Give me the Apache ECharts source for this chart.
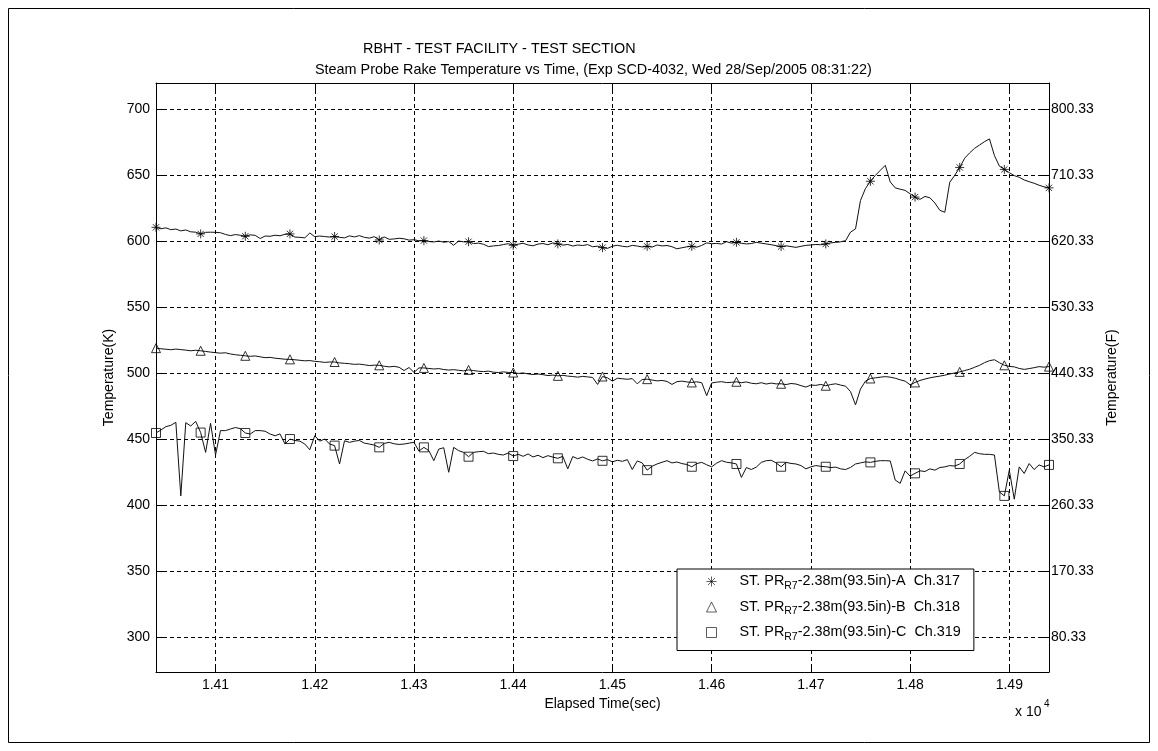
<!DOCTYPE html>
<html><head><meta charset="utf-8">
<script src="https://cdn.jsdelivr.net/npm/echarts@6/dist/echarts.min.js"></script>
<style>html,body{margin:0;padding:0;background:#fff}#chart{width:1158px;height:751px}</style>
</head><body><div id="chart"></div>
<script>
// ---------- data ----------
const elapsedTime = [
14040,14045,14050,14055,14060,14065,14070,14075,14080,14085,
14090,14095,14100,14105,14110,14115,14120,14125,14130,14135,
14140,14145,14150,14155,14160,14165,14170,14175,14180,14185,
14190,14195,14200,14205,14210,14215,14220,14225,14230,14235,
14240,14245,14250,14255,14260,14265,14270,14275,14280,14285,
14290,14295,14300,14305,14310,14315,14320,14325,14330,14335,
14340,14345,14350,14355,14360,14365,14370,14375,14380,14385,
14390,14395,14400,14405,14410,14415,14420,14425,14430,14435,
14440,14445,14450,14455,14460,14465,14470,14475,14480,14485,
14490,14495,14500,14505,14510,14515,14520,14525,14530,14535,
14540,14545,14550,14555,14560,14565,14570,14575,14580,14585,
14590,14595,14600,14605,14610,14615,14620,14625,14630,14635,
14640,14645,14650,14655,14660,14665,14670,14675,14680,14685,
14690,14695,14700,14705,14710,14715,14720,14725,14730,14735,
14740,14745,14750,14755,14760,14765,14770,14775,14780,14785,
14790,14795,14800,14805,14810,14815,14820,14825,14830,14835,
14840,14845,14850,14855,14860,14865,14870,14875,14880,14885,
14890,14895,14900,14905,14910,14915,14920,14925,14930,14935,
14940];

const tempA = [
610.6,609.5,610.2,608.8,609.3,607.9,608.6,607.2,606.9,605.6,
606.8,606.9,606.8,606.5,605.2,604.3,605.1,604.6,603.8,604.9,
604.5,602.1,604.0,603.8,604.6,604.2,605.3,605.6,603.2,603.0,
602.6,606.3,603.5,604.0,603.6,603.2,603.6,603.0,602.6,604.1,
603.3,604.3,603.0,602.4,603.5,601.0,603.3,601.5,601.8,602.3,
601.9,600.9,601.2,600.4,600.5,599.8,599.5,600.2,599.3,599.8,
597.0,600.2,599.6,599.7,598.3,598.6,597.8,596.0,596.5,596.8,
597.5,598.2,597.0,597.8,598.5,597.2,596.6,597.9,598.3,597.4,
598.8,598.0,597.1,597.6,596.4,597.2,596.8,597.5,595.9,596.3,
595.2,594.6,596.3,597.0,596.2,595.8,596.9,596.4,595.7,596.2,
595.6,597.2,596.5,596.8,595.9,594.3,595.1,595.8,596.2,595.5,
596.9,598.8,598.2,598.4,597.9,599.7,598.6,599.2,598.5,598.0,
598.3,599.2,598.6,598.0,597.4,596.7,596.0,596.6,596.0,595.4,
596.2,596.9,597.2,597.6,597.4,598.0,598.8,599.2,599.6,600.5,
607.0,609.4,630.9,640.0,645.5,650.0,653.8,657.6,645.0,640.5,
639.5,638.6,636.0,633.5,631.8,634.0,633.0,629.0,623.5,622.0,
644.8,650.0,656.0,663.0,667.0,670.5,673.0,675.5,677.6,665.0,
657.0,654.5,652.0,649.8,648.5,646.5,645.2,644.0,642.5,641.3,
640.5];

const tempB = [
519.0,518.5,518.2,517.8,518.3,517.9,517.5,517.0,517.4,517.0,
516.5,516.0,515.6,515.2,515.5,514.6,514.0,513.6,513.2,512.8,
513.1,512.4,511.8,512.0,511.4,511.0,510.6,510.5,510.2,509.8,
509.4,509.6,509.0,508.7,508.2,508.5,508.5,507.8,507.5,507.2,
506.7,506.9,506.4,505.8,506.1,506.0,505.3,504.8,505.2,504.5,
502.0,504.3,500.6,504.0,504.0,503.6,503.2,503.5,502.8,502.4,
502.7,502.2,501.8,502.5,502.0,501.5,501.2,501.6,500.8,500.5,
501.0,500.6,500.5,499.8,500.2,499.5,499.0,499.4,498.9,498.2,
498.6,498.0,498.4,497.8,497.5,497.0,497.6,497.2,496.8,491.5,
497.5,496.5,494.0,496.2,495.8,495.4,495.9,492.0,495.2,495.5,
494.8,494.2,494.5,493.8,491.5,493.6,494.0,493.4,493.0,493.5,
492.8,483.0,492.6,493.2,493.6,492.9,493.1,493.5,492.8,493.4,
492.4,492.0,492.8,491.8,492.5,491.9,492.0,491.4,492.2,491.8,
490.6,489.5,491.0,490.8,491.5,490.5,491.4,492.0,491.0,490.2,
486.0,476.0,488.0,494.0,496.0,496.5,497.0,497.4,497.0,496.2,
495.0,494.0,491.2,493.0,494.5,495.6,496.5,497.2,497.8,498.5,
499.4,500.2,501.0,502.0,503.0,504.5,506.0,508.0,509.5,510.2,
508.0,506.0,505.2,504.8,503.6,502.9,503.5,504.2,505.0,504.6,
505.0];

const tempC = [
454.7,457.0,459.5,460.5,462.8,407.0,462.5,460.0,463.5,455.0,
440.0,462.0,438.0,456.5,456.5,457.7,458.8,458.0,454.7,453.9,
456.5,456.5,456.0,453.9,452.6,454.0,446.3,450.1,449.0,448.5,
446.3,442.0,452.6,448.5,450.1,446.3,445.1,431.2,448.8,447.6,
448.5,449.0,447.0,446.3,445.5,443.8,446.8,447.6,446.5,446.0,
446.3,447.0,447.6,441.0,443.8,441.3,433.7,442.5,443.5,424.9,
443.8,441.3,440.0,436.7,440.0,440.5,440.8,439.0,439.5,438.5,
438.0,439.5,437.2,438.5,437.0,438.8,436.5,437.8,436.0,437.5,
436.4,435.5,437.0,427.5,436.8,435.2,436.5,434.8,433.5,435.0,
433.6,434.5,432.8,434.0,433.2,434.5,427.0,433.5,432.0,426.5,
429.5,431.2,432.5,433.7,432.0,432.7,431.5,430.8,429.1,431.5,
432.4,430.6,429.0,431.8,433.7,432.5,432.0,431.2,421.0,428.5,
427.0,428.8,432.4,433.7,434.0,432.0,429.1,432.4,431.6,431.2,
430.0,427.5,429.0,430.0,429.4,429.1,428.5,428.8,427.5,427.0,
428.6,431.2,432.0,432.8,432.4,433.2,433.7,433.7,433.5,419.0,
416.5,426.0,422.0,424.1,426.0,425.5,427.5,426.5,428.5,429.0,
430.0,429.6,431.2,434.5,437.0,440.0,439.0,438.5,438.5,438.0,
410.0,407.0,426.5,404.5,429.0,424.0,431.5,427.0,430.5,429.0,
430.5];

const xTicks = [14100,14200,14300,14400,14500,14600,14700,14800,14900];
const yTicksK = [300,350,400,450,500,550,600,650,700];
const seriesLetters = ['A','B','C'];
const channels = ['317','318','319'];
const markerSymbols = [
  'path://M5,0L5,10M0,5L10,5M1.5,1.5L8.5,8.5M8.5,1.5L1.5,8.5',
  'triangle',
  'rect'
];
const markerEvery = 9;
const titleLine1 = 'RBHT - TEST FACILITY - TEST SECTION';
const titleLine2 = 'Steam Probe Rake Temperature vs Time, (Exp SCD-4032, Wed 28/Sep/2005 08:31:22)';

// ---------- chart ----------
const FONT = "'Liberation Sans', Arial, Helvetica, sans-serif";
const xMin = 14040, xMax = 14940, yMinK = 273.5, yMaxK = 720;
const kToF = k => k * 9 / 5 - 459.67;
const yTicksF = yTicksK.map(kToF);
const allTemps = [tempA, tempB, tempC];

const series = [];
allTemps.forEach((vals, s) => {
  const pts = elapsedTime.map((t, i) => [t, vals[i]]);
  series.push({
    type: 'line', data: pts, showSymbol: false, silent: true, z: 2,
    lineStyle: { color: '#111', width: 1 }, animation: false
  });
});
allTemps.forEach((vals, s) => {
  const pts = elapsedTime.map((t, i) => [t, vals[i]]).filter((p, i) => i % markerEvery === 0);
  series.push({
    type: 'scatter', name: seriesLetters[s], data: pts, silent: true, z: 3,
    symbol: markerSymbols[s], symbolSize: 9,
    itemStyle: { color: 'none', borderColor: '#000', borderWidth: 1 }, animation: false
  });
});

const dash = { type: [4, 3], color: '#000', width: 1 };
const labelStyle = { color: '#000', fontSize: 14, fontFamily: FONT };

const option = {
  backgroundColor: '#fff',
  animation: false,
  grid: { left: 156, right: 109, top: 83, bottom: 79 },
  xAxis: [
    {
      type: 'value', min: xMin, max: xMax, position: 'bottom',
      axisLine: { show: true, lineStyle: { color: '#000', width: 1 } },
      axisTick: { show: true, inside: true, length: 8, customValues: xTicks, lineStyle: { color: '#000' } },
      axisLabel: Object.assign({ customValues: xTicks, margin: 6, formatter: v => (v / 10000).toFixed(2) }, labelStyle),
      splitLine: { show: true, lineStyle: dash },
      name: 'Elapsed Time(sec)', nameLocation: 'middle', nameGap: 25,
      nameTextStyle: labelStyle
    },
    {
      type: 'value', min: xMin, max: xMax, position: 'top',
      axisLine: { show: true, lineStyle: { color: '#000', width: 1 } },
      axisTick: { show: true, inside: true, length: 8, customValues: xTicks, lineStyle: { color: '#000' } },
      axisLabel: { show: false }, splitLine: { show: false }
    }
  ],
  yAxis: [
    {
      type: 'value', min: yMinK, max: yMaxK, position: 'left',
      axisLine: { show: true, lineStyle: { color: '#000', width: 1 } },
      axisTick: { show: true, inside: true, length: 8, customValues: yTicksK, lineStyle: { color: '#000' } },
      axisLabel: Object.assign({ customValues: yTicksK, margin: 6, formatter: v => String(Math.round(v)) }, labelStyle),
      splitLine: { show: true, lineStyle: dash },
      name: 'Temperature(K)', nameLocation: 'middle', nameGap: 30, nameRotate: 90,
      nameTextStyle: labelStyle
    },
    {
      type: 'value', min: kToF(yMinK), max: kToF(yMaxK), position: 'right',
      axisLine: { show: true, lineStyle: { color: '#000', width: 1 } },
      axisTick: { show: true, inside: true, length: 8, customValues: yTicksF, lineStyle: { color: '#000' } },
      axisLabel: Object.assign({ customValues: yTicksF, margin: 2, formatter: v => v.toFixed(2) }, labelStyle),
      splitLine: { show: false },
      name: 'Temperature(F)', nameLocation: 'middle', nameGap: 48, nameRotate: 90,
      nameTextStyle: labelStyle
    }
  ],
  legend: {
    data: seriesLetters, orient: 'vertical', left: 677, top: 569,
    padding: [5, 13, 8, 27], itemGap: 8, itemWidth: 10, itemHeight: 10,
    backgroundColor: '#fff', borderColor: '#000', borderWidth: 1, borderRadius: 0,
    selectedMode: false,
    formatter: name => {
      const k = seriesLetters.indexOf(name);
      return '{g| }{n|ST. PR}{s|R7}{n|-2.38m(93.5in)-' + name + '  Ch.' + channels[k] + '}';
    },
    itemStyle: { borderWidth: 0.8 },
    textStyle: {
      color: '#000', fontSize: 14.4, fontFamily: FONT,
      rich: {
        g: { width: 18, lineHeight: 20 },
        n: { fontSize: 14.4, lineHeight: 20, fontFamily: FONT, color: '#000' },
        s: { fontSize: 10.5, lineHeight: 20, fontFamily: FONT, color: '#000', verticalAlign: 'bottom' }
      }
    }
  },
  graphic: [
    { type: 'rect', silent: true, z: 0, shape: { x: 8.5, y: 8.5, width: 1141, height: 734 },
      style: { fill: 'none', stroke: '#000', lineWidth: 1 } },
    { type: 'text', left: 363, top: 42, silent: true,
      style: { text: titleLine1, font: '14.4px ' + FONT, fill: '#000' } },
    { type: 'text', left: 315, top: 63, silent: true,
      style: { text: titleLine2, font: '14.4px ' + FONT, fill: '#000' } },
    { type: 'text', left: 1015, top: 705, silent: true,
      style: { text: 'x 10', font: '14px ' + FONT, fill: '#000' } },
    { type: 'text', left: 1044, top: 699, silent: true,
      style: { text: '4', font: '10px ' + FONT, fill: '#000' } }
  ],
  series: series
};

const chart = echarts.init(document.getElementById('chart'), null, { renderer: 'canvas' });
chart.setOption(option);
</script>
</body></html>
